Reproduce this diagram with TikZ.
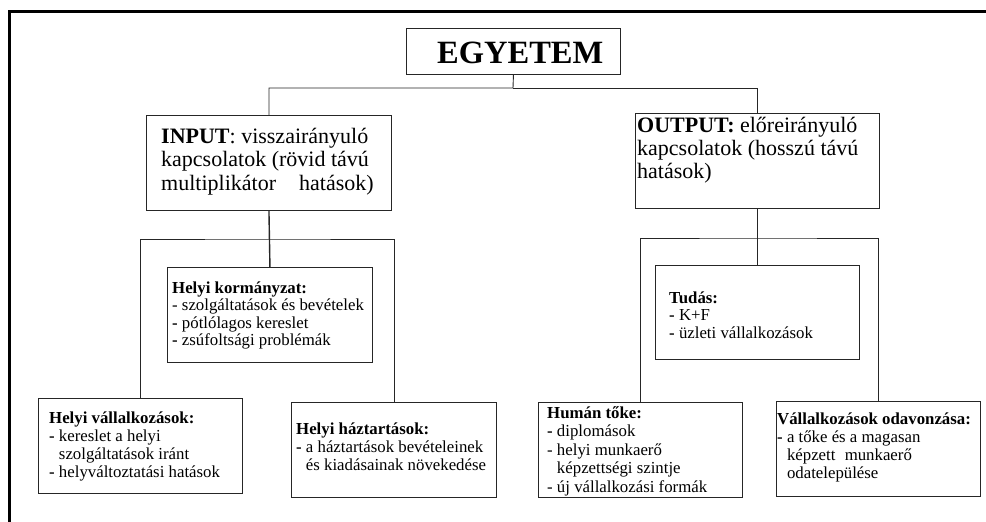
\documentclass[tikz,border=0pt]{standalone}
\usepackage{fontspec}
\setmainfont{Liberation Serif}
\begin{document}
\begin{tikzpicture}[x=1pt,y=-1pt,
  box/.style={draw=black!85,line width=0.9pt,inner sep=0pt,anchor=north west},
  txt/.style={anchor=base west,inner sep=0pt},
  conn/.style={draw=black!85,line width=0.9pt}]
\useasboundingbox (0,0) rectangle (986,522);
% frame
\draw[line width=3pt] (9,522) -- (9,11) -- (986,11);
% boxes
\node[box,minimum width=214pt,minimum height=46pt] (egy) at (406,28) {};
\node[box,minimum width=245pt,minimum height=95pt] (inp) at (146,115) {};
\node[box,minimum width=244pt,minimum height=95pt] (out) at (635,113) {};
\node[box,minimum width=205pt,minimum height=95pt] (hk) at (167,267) {};
\node[box,minimum width=204pt,minimum height=95pt] (hv) at (38,398) {};
\node[box,minimum width=205pt,minimum height=95pt] (hh) at (291,402) {};
\node[box,minimum width=204pt,minimum height=94pt] (tu) at (655,265) {};
\node[box,minimum width=204pt,minimum height=95pt] (ht) at (538,402) {};
\node[box,minimum width=204pt,minimum height=95pt] (vo) at (776,401) {};
% texts
\node[txt] (egyt) at (437,63) {\fontsize{32.5}{33}\selectfont\bfseries EGYETEM};
\node[txt] (inpt) at (161,143) {\parbox[t]{235pt}{\fontsize{22}{23.5}\selectfont
  \textbf{INPUT}: visszairányuló\\ kapcsolatok (rövid távú\\ multiplikátor\hspace{0.8em} hatások)}};
\node[txt] (outt) at (637,132) {\parbox[t]{240pt}{\fontsize{22}{23}\selectfont
  \textbf{OUTPUT:} előreirányuló\\ kapcsolatok (hosszú távú\\ hatások)}};
\node[txt] (hkt) at (172,293) {\parbox[t]{215pt}{\fontsize{16.8}{17.5}\selectfont
  \textbf{Helyi kormányzat:}\\ - szolgáltatások és bevételek\\ \textbf{-} pótlólagos kereslet\\ \textbf{-} zsúfoltsági problémák}};
\node[txt] (hvt) at (49,423) {\parbox[t]{210pt}{\fontsize{16.8}{18}\selectfont
  \textbf{Helyi vállalkozások:}\\ \textbf{-} kereslet a helyi\\ \phantom{-~}szolgáltatások iránt\\ \textbf{-} helyváltoztatási hatások}};
\node[txt] (hht) at (296,434) {\parbox[t]{215pt}{\fontsize{16.8}{18}\selectfont
  \textbf{Helyi háztartások:}\\ \textbf{-} a háztartások bevételeinek\\ \phantom{-~}és kiadásainak növekedése}};
\node[txt] (tut) at (669,303) {\parbox[t]{210pt}{\fontsize{16.8}{17.5}\selectfont
  \textbf{Tudás:}\\ \textbf{-} K+F\\ \textbf{-} üzleti vállalkozások}};
\node[txt] (htt) at (547,418) {\parbox[t]{210pt}{\fontsize{16.8}{18.5}\selectfont
  \textbf{Humán tőke:}\\ \textbf{-} diplomások\\ - helyi munkaerő\\ \phantom{-~}képzettségi szintje\\ - új vállalkozási formák}};
\node[txt] (vot) at (777,424) {\parbox[t]{215pt}{\fontsize{16.8}{18}\selectfont
  \textbf{Vállalkozások odavonzása:}\\ \textbf{-} a tőke és a magasan\\ \phantom{-~}képzett\hspace{0.3em} munkaerő\\ \phantom{-~}odatelepülése}};
% connectors
\coordinate (top) at (513,88);
\coordinate (lb) at (268,239);
\coordinate (rb) at (757,238);
\draw[conn] (egy.south) -- (top) -| (inp.north);
\draw[conn] (top) -| (out.north);
\draw[conn,line width=1.4pt] (inp.south) -- (hk.north);
\draw[conn] (hv.north) |- (lb) -| (hh.north);
\draw[conn] (out.south) -- (tu.north);
\draw[conn] (ht.north) |- (rb) -| (vo.north);
\end{tikzpicture}
\end{document}
